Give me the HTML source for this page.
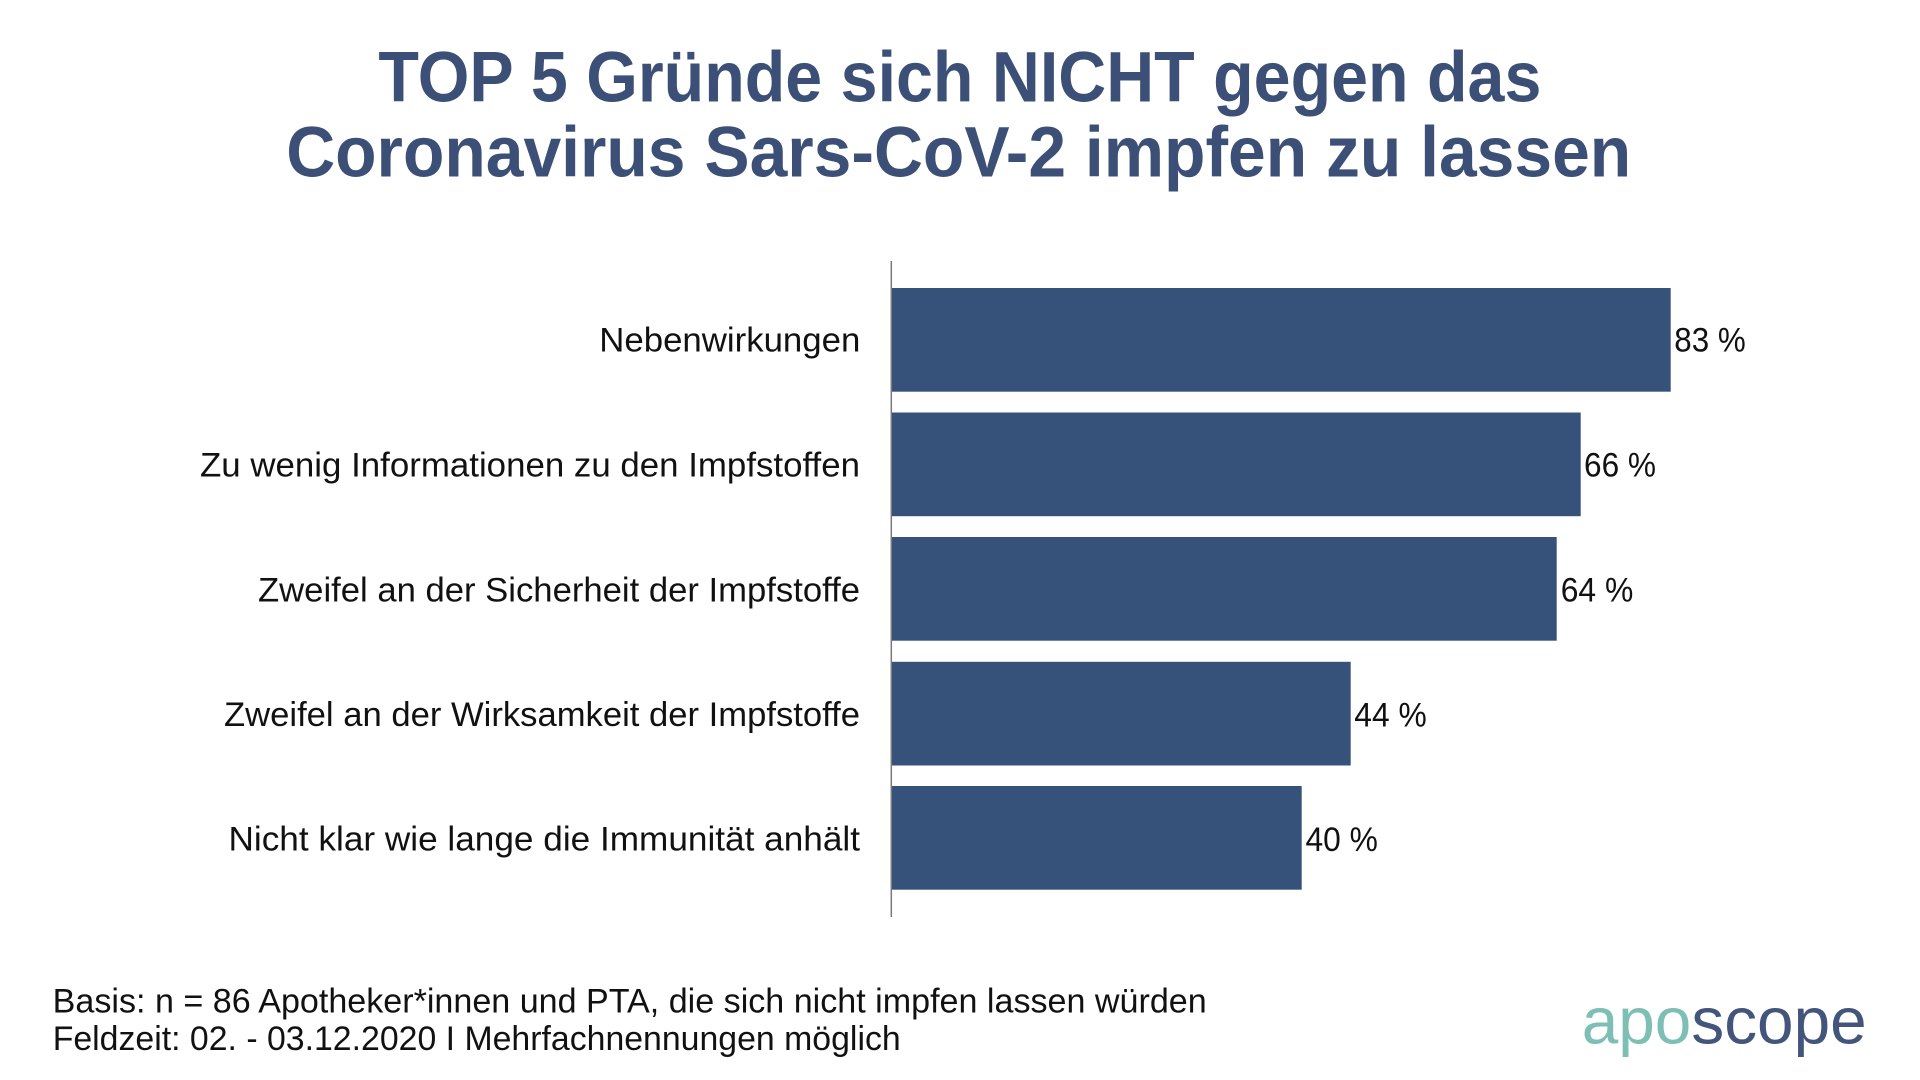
<!DOCTYPE html>
<html>
<head>
<meta charset="utf-8">
<style>
  html, body { margin: 0; padding: 0; background: #ffffff; }
  svg { display: block; }
  .title { font-family: "Liberation Sans", sans-serif; font-weight: bold; font-size: 71px; fill: #3c5077; }
  .lbl { font-family: "Liberation Sans", sans-serif; font-size: 34px; fill: #111111; }
  .val { font-family: "Liberation Sans", sans-serif; font-size: 34px; fill: #111111; }
  .foot { font-family: "Liberation Sans", sans-serif; font-size: 34px; fill: #111111; }
  .logo { font-family: "Liberation Sans", sans-serif; font-size: 66px; }
</style>
</head>
<body>
<svg width="1920" height="1080" viewBox="0 0 1920 1080" xmlns="http://www.w3.org/2000/svg">
  <rect x="0" y="0" width="1920" height="1080" fill="#ffffff"/>

  <!-- Title -->
  <text class="title" x="378.4" y="101.7" textLength="1163" lengthAdjust="spacingAndGlyphs">TOP 5 Gründe sich NICHT gegen das</text>
  <text class="title" x="286.2" y="176.7" textLength="1345" lengthAdjust="spacingAndGlyphs">Coronavirus Sars-CoV-2 impfen zu lassen</text>

  <!-- Bars -->
  <g fill="#37527a">
    <rect x="891.5" y="288" width="779.2" height="103.7"/>
    <rect x="891.5" y="412.5" width="689.2" height="103.7"/>
    <rect x="891.5" y="537" width="665.2" height="103.7"/>
    <rect x="891.5" y="661.8" width="459.2" height="103.7"/>
    <rect x="891.5" y="786" width="410.2" height="103.7"/>
  </g>

  <!-- Axis -->
  <line x1="891.3" y1="261" x2="891.3" y2="917" stroke="#7a7a7a" stroke-width="1.5"/>

  <!-- Category labels -->
  <text class="lbl" x="599.3" y="351.7" textLength="261" lengthAdjust="spacingAndGlyphs">Nebenwirkungen</text>
  <text class="lbl" x="200" y="476.5" textLength="660" lengthAdjust="spacingAndGlyphs">Zu wenig Informationen zu den Impfstoffen</text>
  <text class="lbl" x="258" y="601.3" textLength="602" lengthAdjust="spacingAndGlyphs">Zweifel an der Sicherheit der Impfstoffe</text>
  <text class="lbl" x="224" y="726" textLength="636" lengthAdjust="spacingAndGlyphs">Zweifel an der Wirksamkeit der Impfstoffe</text>
  <text class="lbl" x="228.5" y="850.5" textLength="631.5" lengthAdjust="spacingAndGlyphs">Nicht klar wie lange die Immunität anhält</text>

  <!-- Value labels -->
  <text class="val" x="1674.3" y="351.7" textLength="71.4" lengthAdjust="spacingAndGlyphs">83 %</text>
  <text class="val" x="1584" y="476.3" textLength="72" lengthAdjust="spacingAndGlyphs">66 %</text>
  <text class="val" x="1560.7" y="601.7" textLength="72.6" lengthAdjust="spacingAndGlyphs">64 %</text>
  <text class="val" x="1354.3" y="726.7" textLength="72.4" lengthAdjust="spacingAndGlyphs">44 %</text>
  <text class="val" x="1305.5" y="850.8" textLength="72.4" lengthAdjust="spacingAndGlyphs">40 %</text>

  <!-- Footer -->
  <text class="foot" x="52.7" y="1012.7" textLength="1154" lengthAdjust="spacingAndGlyphs">Basis: n = 86 Apotheker*innen und PTA, die sich nicht impfen lassen würden</text>
  <text class="foot" x="52.7" y="1050" textLength="848" lengthAdjust="spacingAndGlyphs">Feldzeit: 02. - 03.12.2020 I Mehrfachnennungen möglich</text>

  <!-- Logo -->
  <text class="logo" x="1581.7" y="1043.3" textLength="285" lengthAdjust="spacingAndGlyphs"><tspan fill="#7dbfb4">apo</tspan><tspan fill="#43557a">scope</tspan></text>
</svg>
</body>
</html>
